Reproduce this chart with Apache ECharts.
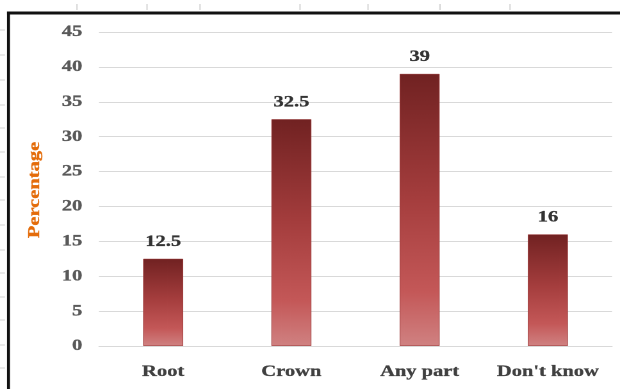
<!DOCTYPE html>
<html>
<head>
<meta charset="utf-8">
<script src="https://cdn.jsdelivr.net/npm/echarts@6/dist/echarts.min.js"></script>
<style>
  html, body { margin: 0; padding: 0; background: #ffffff; overflow: hidden; }
  #wrap { width: 620px; height: 389px; overflow: hidden; }
  /* the chart is laid out narrower and widened, giving the broad serif lettering */
  #chart { width: 484px; height: 389px; transform: scaleX(1.28099); transform-origin: 0 0; }
</style>
</head>
<body>
<div id="wrap"><div id="chart"></div></div>
<script>
// Where respondents place the infection site
const categories = ['Root', 'Crown', 'Any part', "Don't know"];
const percentages = [12.5, 32.5, 39, 16];
const yTicks = [0, 5, 10, 15, 20, 25, 30, 35, 40, 45];
const yTitle = 'Percentage';

const S = 620 / 484;           // horizontal widening factor
const sx = function (x) { return x / S; };
const serif = '"Liberation Serif", "Times New Roman", serif';

const barFill = new echarts.graphic.LinearGradient(0, 0, 0, 1, [
  { offset: 0, color: '#712222' },
  { offset: 0.45, color: '#a43d3d' },
  { offset: 0.8, color: '#c45858' },
  { offset: 1, color: '#d08282' }
]);

// faint ruler ticks around the framed panel
const rulerMarks = [];
[77, 147, 200, 300, 368, 440, 510].forEach(function (x) {
  rulerMarks.push({ type: 'line', silent: true, shape: { x1: sx(x), y1: 4, x2: sx(x), y2: 10 }, style: { stroke: '#d4d4d4', lineWidth: 1 } });
});
[30, 55, 80, 105, 128, 152, 177, 200, 225, 250, 273, 297, 320, 345, 368].forEach(function (y) {
  rulerMarks.push({ type: 'line', silent: true, shape: { x1: 0, y1: y, x2: sx(5), y2: y }, style: { stroke: '#d4d4d4', lineWidth: 1 } });
});

const chart = echarts.init(document.getElementById('chart'), null, { renderer: 'canvas', devicePixelRatio: 2 });
chart.setOption({
  animation: false,
  backgroundColor: '#ffffff',
  grid: { left: sx(99), right: sx(8), top: 32, bottom: 43, containLabel: false },
  graphic: rulerMarks.concat([
    { type: 'line', silent: true, shape: { x1: sx(7), y1: 13, x2: 484, y2: 13 }, style: { stroke: '#111111', lineWidth: 3 } },
    { type: 'line', silent: true, shape: { x1: sx(8.5), y1: 11.5, x2: sx(8.5), y2: 389 }, style: { stroke: '#111111', lineWidth: 3 / S } },
    {
      type: 'text',
      silent: true,
      x: sx(35),
      y: 190,
      rotation: Math.PI / 2,
      scaleX: S,
      scaleY: 1 / S,
      style: {
        text: yTitle,
        fill: '#e46c0a',
        font: 'bold 16px ' + serif,
        align: 'center',
        verticalAlign: 'middle',
        stroke: '#e46c0a',
        lineWidth: 0.3
      }
    }
  ]),
  xAxis: {
    type: 'category',
    data: categories,
    axisLine: { show: true, lineStyle: { color: '#d9d9d9', width: 1 } },
    axisTick: { show: false },
    axisLabel: {
      interval: 0,
      hideOverlap: false,
      color: '#404040',
      fontFamily: serif,
      fontWeight: 'bold',
      fontSize: 16,
      margin: 18,
      textBorderColor: '#404040',
      textBorderWidth: 0.3
    }
  },
  yAxis: {
    type: 'value',
    min: yTicks[0],
    max: yTicks[yTicks.length - 1],
    interval: 5,
    axisLine: { show: false },
    axisTick: { show: false },
    axisLabel: {
      color: '#595959',
      fontFamily: serif,
      fontWeight: 'bold',
      fontSize: 16,
      margin: 13,
      textBorderColor: '#595959',
      textBorderWidth: 0.3
    },
    splitLine: { lineStyle: { color: '#d9d9d9', width: 1 } }
  },
  series: [{
    type: 'bar',
    data: percentages,
    barWidth: sx(40),
    itemStyle: { color: barFill, borderColor: '#9c3a3a', borderWidth: 0.5 },
    label: {
      show: true,
      position: 'top',
      distance: 9,
      color: '#333333',
      fontFamily: serif,
      fontWeight: 'bold',
      fontSize: 16,
      textBorderColor: '#333333',
      textBorderWidth: 0.3
    }
  }]
});
</script>
</body>
</html>
